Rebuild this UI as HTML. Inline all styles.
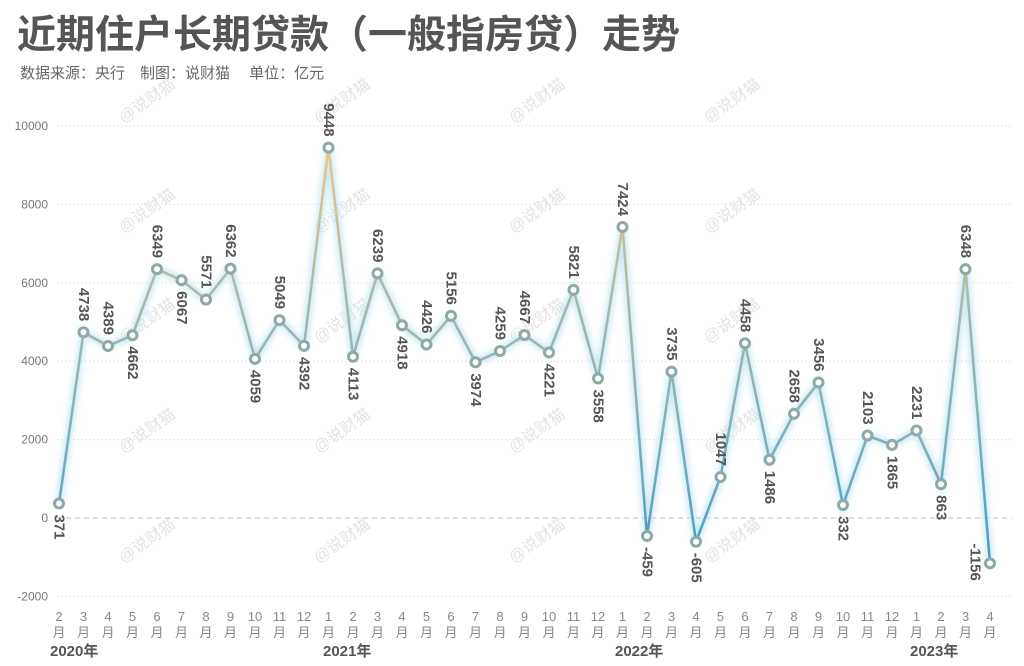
<!DOCTYPE html><html><head><meta charset="utf-8"><style>
body{margin:0;background:#fff;width:1024px;height:661px;overflow:hidden;font-family:"Liberation Sans","Noto Sans CJK SC",sans-serif}
</style></head><body>
<svg width="1024" height="661" xmlns="http://www.w3.org/2000/svg" font-family="Liberation Sans, Noto Sans CJK SC, sans-serif">
<defs>
<linearGradient id="g" gradientUnits="userSpaceOnUse" x1="0" y1="148" x2="0" y2="562">
<stop offset="0" stop-color="#eec48c"/><stop offset="0.4" stop-color="#a3b8aa"/><stop offset="0.7" stop-color="#7fb0b8"/><stop offset="1" stop-color="#3f9cc4"/>
</linearGradient>
<filter id="glow" x="-10%" y="-10%" width="120%" height="120%"><feGaussianBlur stdDeviation="3"/></filter>
</defs>
<text x="17" y="48" font-size="39" font-weight="bold" fill="#555">近期住户长期贷款（一般指房贷）走势</text>
<text x="20" y="78" font-size="15" fill="#666">数据来源：央行　制图：说财猫　 单位：亿元</text>
<g id="wm" fill="#e4e4e4" font-size="16"></g>
<g id="grid"></g>
<g id="chart"></g>
</svg>
<script>
const d=[371,4738,4389,4662,6349,6067,5571,6362,4059,5049,4392,9448,4113,6239,4918,4426,5156,3974,4259,4667,4221,5821,3558,7424,-459,3735,-605,1047,4458,1486,2658,3456,332,2103,1865,2231,863,6348,-1156];
const pos="BAABABAABABABABAABAABABABABAABAABABABAS";
const X=i=>59+i*24.5, Y=v=>518-v*0.0392;
let s='';
let w='';
for(let c=0;c<4;c++)for(let r=0;r<5;r++){const x=150+c*195,y=105+r*110;w+=`<text x="${x}" y="${y}" transform="rotate(-35 ${x} ${y})" text-anchor="middle">@说财猫</text>`;}
document.getElementById('wm').innerHTML=w;
let g='';
for(let v=-2000;v<=10000;v+=2000){const y=Y(v);
 if(v!==0)g+=`<line x1="57" x2="1012" y1="${y}" y2="${y}" stroke="#e6e6e6" stroke-dasharray="2,2"/>`;
 g+=`<text x="48" y="${y+4}" font-size="12" fill="#777" text-anchor="end">${v}</text>`;}
g+=`<line x1="57" x2="1012" y1="518" y2="518" stroke="#d9b3bd" stroke-dasharray="5,4"/>`;
const months=[];let m=2;for(let i=0;i<39;i++){months.push(m);m=m%12+1;}
months.forEach((mm,i)=>{g+=`<text x="${X(i)}" y="621" font-size="13" fill="#888" text-anchor="middle">${mm}</text><text x="${X(i)}" y="637" font-size="13" fill="#888" text-anchor="middle">月</text>`;});
[[50,'2020年'],[323,'2021年'],[615,'2022年'],[910,'2023年']].forEach(([x,t])=>g+=`<text x="${x}" y="656" font-size="15" font-weight="bold" fill="#555">${t}</text>`);
document.getElementById('grid').innerHTML=g;
const pts=d.map((v,i)=>X(i)+','+Y(v)).join(' ');
s+=`<polyline points="${pts}" fill="none" stroke="#bfe3f2" stroke-width="7" filter="url(#glow)" opacity="0.8"/>`;
s+=`<polyline points="${pts}" fill="none" stroke="url(#g)" stroke-width="2.5"/>`;
d.forEach((v,i)=>{const x=X(i),y=Y(v);
 s+=`<circle cx="${x}" cy="${y}" r="4.5" fill="#fff" stroke="#8fa9a6" stroke-width="3"/>`;
 const p=pos[i];
 if(p==='S'){const tx=x-15,ty=y-20;
  s+=`<text x="${tx}" y="${ty}" transform="rotate(90 ${tx} ${ty})" font-size="15" font-weight="bold" fill="#555" text-anchor="start" dominant-baseline="central">${v}</text>`;return;}
 const a=p==='A';const ty=a?y-11:y+11;
 s+=`<text x="${x}" y="${ty}" transform="rotate(90 ${x} ${ty})" font-size="15" font-weight="bold" fill="#555" text-anchor="${a?'end':'start'}" dominant-baseline="central">${v}</text>`;});
document.getElementById('chart').innerHTML=s;
</script>
</body></html>
